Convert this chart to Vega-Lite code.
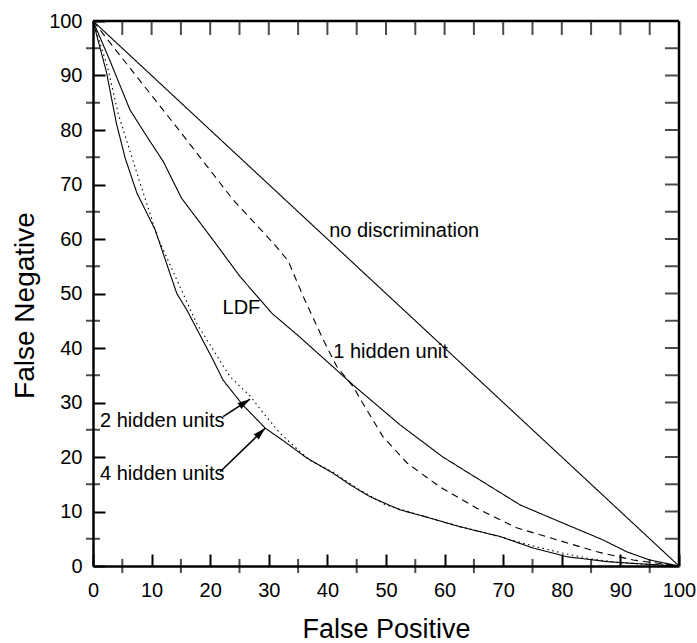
{
  "$schema": "https://vega.github.io/schema/vega-lite/v6.json",
  "width": 586,
  "height": 545,
  "autosize": {"type": "none"},
  "padding": {"left": 93, "top": 21, "right": 18, "bottom": 77},
  "background": "white",
  "config": {
    "view": {"stroke": null},
    "axis": {"domainColor": "black", "tickColor": "black", "labelColor": "black", "titleColor": "black", "labelFont": "Liberation Sans", "titleFont": "Liberation Sans", "titleFontWeight": "normal", "grid": false}
  },
  "datasets": {
    "curves": [
      {"series": "no discrimination", "fp": 0, "fn": 100},
      {"series": "no discrimination", "fp": 100, "fn": 0},
      {"series": "LDF", "fp": 0, "fn": 100},
      {"series": "LDF", "fp": 2.9, "fn": 92.7},
      {"series": "LDF", "fp": 6.3, "fn": 83.7},
      {"series": "LDF", "fp": 9.2, "fn": 78.8},
      {"series": "LDF", "fp": 12, "fn": 74.2},
      {"series": "LDF", "fp": 15.1, "fn": 67.5},
      {"series": "LDF", "fp": 20.5, "fn": 59.8},
      {"series": "LDF", "fp": 25.1, "fn": 53.1},
      {"series": "LDF", "fp": 30.5, "fn": 46.4},
      {"series": "LDF", "fp": 35.3, "fn": 42},
      {"series": "LDF", "fp": 41, "fn": 36.5},
      {"series": "LDF", "fp": 44.4, "fn": 33.2},
      {"series": "LDF", "fp": 52.4, "fn": 25.9},
      {"series": "LDF", "fp": 59.7, "fn": 20},
      {"series": "LDF", "fp": 66, "fn": 15.8},
      {"series": "LDF", "fp": 72.9, "fn": 11.2},
      {"series": "LDF", "fp": 79.7, "fn": 8.1},
      {"series": "LDF", "fp": 87, "fn": 4.8},
      {"series": "LDF", "fp": 91.1, "fn": 2.6},
      {"series": "LDF", "fp": 95, "fn": 1.1},
      {"series": "LDF", "fp": 100, "fn": 0},
      {"series": "1 hidden unit", "fp": 0, "fn": 100},
      {"series": "1 hidden unit", "fp": 5.7, "fn": 92.2},
      {"series": "1 hidden unit", "fp": 15.1, "fn": 79.4},
      {"series": "1 hidden unit", "fp": 23.9, "fn": 67.2},
      {"series": "1 hidden unit", "fp": 30.8, "fn": 59.2},
      {"series": "1 hidden unit", "fp": 33.3, "fn": 56},
      {"series": "1 hidden unit", "fp": 35.9, "fn": 49.4},
      {"series": "1 hidden unit", "fp": 39.3, "fn": 41.5},
      {"series": "1 hidden unit", "fp": 41.6, "fn": 36.6},
      {"series": "1 hidden unit", "fp": 44.4, "fn": 32.9},
      {"series": "1 hidden unit", "fp": 46.4, "fn": 29.2},
      {"series": "1 hidden unit", "fp": 49.5, "fn": 23.7},
      {"series": "1 hidden unit", "fp": 53.6, "fn": 18.9},
      {"series": "1 hidden unit", "fp": 59.2, "fn": 14.5},
      {"series": "1 hidden unit", "fp": 66, "fn": 10.3},
      {"series": "1 hidden unit", "fp": 72.3, "fn": 7},
      {"series": "1 hidden unit", "fp": 79.2, "fn": 4.8},
      {"series": "1 hidden unit", "fp": 86, "fn": 2.6},
      {"series": "1 hidden unit", "fp": 92.2, "fn": 1.1},
      {"series": "1 hidden unit", "fp": 100, "fn": 0},
      {"series": "2 hidden units", "fp": 0, "fn": 100},
      {"series": "2 hidden units", "fp": 2.5, "fn": 91.5},
      {"series": "2 hidden units", "fp": 4.3, "fn": 83},
      {"series": "2 hidden units", "fp": 7.7, "fn": 71.4},
      {"series": "2 hidden units", "fp": 11, "fn": 60.4},
      {"series": "2 hidden units", "fp": 15.1, "fn": 50.6},
      {"series": "2 hidden units", "fp": 17.7, "fn": 44.5},
      {"series": "2 hidden units", "fp": 23.4, "fn": 34.7},
      {"series": "2 hidden units", "fp": 26.8, "fn": 31.2},
      {"series": "2 hidden units", "fp": 29.1, "fn": 28},
      {"series": "2 hidden units", "fp": 31.9, "fn": 24.4},
      {"series": "2 hidden units", "fp": 35.3, "fn": 21},
      {"series": "2 hidden units", "fp": 37, "fn": 19.4},
      {"series": "2 hidden units", "fp": 41, "fn": 17.2},
      {"series": "2 hidden units", "fp": 45, "fn": 14.3},
      {"series": "2 hidden units", "fp": 50, "fn": 11.2},
      {"series": "2 hidden units", "fp": 55, "fn": 9.6},
      {"series": "2 hidden units", "fp": 60, "fn": 8},
      {"series": "2 hidden units", "fp": 65, "fn": 6.6},
      {"series": "2 hidden units", "fp": 70, "fn": 5.2},
      {"series": "2 hidden units", "fp": 75, "fn": 3.7},
      {"series": "2 hidden units", "fp": 80, "fn": 2.4},
      {"series": "2 hidden units", "fp": 85, "fn": 1.3},
      {"series": "2 hidden units", "fp": 90, "fn": 0.6},
      {"series": "2 hidden units", "fp": 100, "fn": 0},
      {"series": "4 hidden units", "fp": 0, "fn": 100},
      {"series": "4 hidden units", "fp": 2.3, "fn": 90.6},
      {"series": "4 hidden units", "fp": 4, "fn": 81.2},
      {"series": "4 hidden units", "fp": 5.5, "fn": 74.8},
      {"series": "4 hidden units", "fp": 7.5, "fn": 68.4},
      {"series": "4 hidden units", "fp": 10.6, "fn": 61.7},
      {"series": "4 hidden units", "fp": 14.3, "fn": 50},
      {"series": "4 hidden units", "fp": 16, "fn": 47},
      {"series": "4 hidden units", "fp": 20.5, "fn": 37.8},
      {"series": "4 hidden units", "fp": 22.2, "fn": 34.1},
      {"series": "4 hidden units", "fp": 25.6, "fn": 29.5},
      {"series": "4 hidden units", "fp": 29.4, "fn": 25.3},
      {"series": "4 hidden units", "fp": 33.1, "fn": 22.5},
      {"series": "4 hidden units", "fp": 36.5, "fn": 19.8},
      {"series": "4 hidden units", "fp": 41, "fn": 17},
      {"series": "4 hidden units", "fp": 43.9, "fn": 14.9},
      {"series": "4 hidden units", "fp": 47.3, "fn": 12.7},
      {"series": "4 hidden units", "fp": 52.4, "fn": 10.3},
      {"series": "4 hidden units", "fp": 57.5, "fn": 8.8},
      {"series": "4 hidden units", "fp": 62.6, "fn": 7.2},
      {"series": "4 hidden units", "fp": 69.5, "fn": 5.4},
      {"series": "4 hidden units", "fp": 75.1, "fn": 3.3},
      {"series": "4 hidden units", "fp": 80.9, "fn": 1.7},
      {"series": "4 hidden units", "fp": 87.7, "fn": 0.8},
      {"series": "4 hidden units", "fp": 93.3, "fn": 0.4},
      {"series": "4 hidden units", "fp": 100, "fn": 0}
    ],
    "arrows": [
      {"name": "2 hidden units", "x": 22.2, "y": 27.4, "x2": 26.8, "y2": 30.6},
      {"name": "4 hidden units", "x": 21.7, "y": 17.3, "x2": 29.4, "y2": 25.3}
    ],
    "labels": [
      {"label": "no discrimination", "x": 40.3, "y": 61.5},
      {"label": "LDF", "x": 22.1, "y": 47.3},
      {"label": "1 hidden unit", "x": 41, "y": 39.3},
      {"label": "2 hidden units", "x": 1.2, "y": 26.6},
      {"label": "4 hidden units", "x": 1.2, "y": 16.9}
    ],
    "tickvals": [
      {"v": 5, "kind": "minor"}, {"v": 10, "kind": "major"},
      {"v": 15, "kind": "minor"}, {"v": 20, "kind": "major"},
      {"v": 25, "kind": "minor"}, {"v": 30, "kind": "major"},
      {"v": 35, "kind": "minor"}, {"v": 40, "kind": "major"},
      {"v": 45, "kind": "minor"}, {"v": 50, "kind": "major"},
      {"v": 55, "kind": "minor"}, {"v": 60, "kind": "major"},
      {"v": 65, "kind": "minor"}, {"v": 70, "kind": "major"},
      {"v": 75, "kind": "minor"}, {"v": 80, "kind": "major"},
      {"v": 85, "kind": "minor"}, {"v": 90, "kind": "major"},
      {"v": 95, "kind": "minor"}
    ],
    "frame": [
      {"side": "top"}, {"side": "right"}
    ]
  },
  "layer": [
    {
      "data": {"name": "curves"},
      "mark": {"type": "line", "color": "black", "strokeWidth": 1.1},
      "encoding": {
        "x": {"field": "fp", "type": "quantitative", "scale": {"domain": [0, 100], "nice": false},
          "axis": {"orient": "bottom", "values": [0, 10, 20, 30, 40, 50, 60, 70, 80, 90, 100], "ticks": true, "tickSize": -12, "tickWidth": 2, "domain": true, "domainWidth": 2.5, "labelFontSize": 20, "labelPadding": 26, "labelFlush": false, "labelOverlap": false, "title": "False Positive", "titleFontSize": 27, "titleBaseline": "alphabetic", "titleX": 293, "titleY": 71}},
        "y": {"field": "fn", "type": "quantitative", "scale": {"domain": [0, 100], "nice": false},
          "axis": {"orient": "left", "values": [0, 10, 20, 30, 40, 50, 60, 70, 80, 90, 100], "ticks": true, "tickSize": -12, "tickWidth": 2, "domain": true, "domainWidth": 2.5, "labelFontSize": 20, "labelPadding": 23, "labelFlush": false, "labelOverlap": false, "title": "False Negative", "titleFontSize": 28, "titleBaseline": "alphabetic", "titleX": -60, "titleY": 284}},
        "detail": {"field": "series"},
        "strokeDash": {"field": "series", "type": "nominal",
          "scale": {"domain": ["no discrimination", "LDF", "1 hidden unit", "2 hidden units", "4 hidden units"], "range": [[1, 0], [1, 0], [7, 5], [1.5, 3.5], [1, 0]]},
          "legend": null}
      }
    },
    {
      "data": {"name": "arrows"},
      "mark": {"type": "rule", "color": "black", "strokeWidth": 1.5},
      "encoding": {
        "x": {"field": "x", "type": "quantitative"},
        "y": {"field": "y", "type": "quantitative"},
        "x2": {"field": "x2"},
        "y2": {"field": "y2"}
      }
    },
    {
      "data": {"name": "arrows"},
      "transform": [{"filter": "datum.name === '2 hidden units'"}],
      "mark": {"type": "point", "shape": "M0,0L0.6,2.1L-0.6,2.1Z", "filled": true, "color": "black", "opacity": 1, "size": 144, "angle": 57},
      "encoding": {
        "x": {"field": "x2", "type": "quantitative"},
        "y": {"field": "y2", "type": "quantitative"}
      }
    },
    {
      "data": {"name": "arrows"},
      "transform": [{"filter": "datum.name === '4 hidden units'"}],
      "mark": {"type": "point", "shape": "M0,0L0.6,2.1L-0.6,2.1Z", "filled": true, "color": "black", "opacity": 1, "size": 144, "angle": 46},
      "encoding": {
        "x": {"field": "x2", "type": "quantitative"},
        "y": {"field": "y2", "type": "quantitative"}
      }
    },
    {
      "data": {"name": "labels"},
      "mark": {"type": "text", "align": "left", "baseline": "middle", "fontSize": 20, "color": "black", "font": "Liberation Sans"},
      "encoding": {
        "x": {"field": "x", "type": "quantitative"},
        "y": {"field": "y", "type": "quantitative"},
        "text": {"field": "label"}
      }
    },
    {
      "data": {"name": "frame"},
      "transform": [{"filter": "datum.side === 'top'"}],
      "mark": {"type": "rule", "color": "black", "strokeWidth": 2.5},
      "encoding": {
        "x": {"datum": 0, "type": "quantitative"},
        "x2": {"datum": 100},
        "y": {"datum": 100, "type": "quantitative"}
      }
    },
    {
      "data": {"name": "frame"},
      "transform": [{"filter": "datum.side === 'right'"}],
      "mark": {"type": "rule", "color": "black", "strokeWidth": 2.5},
      "encoding": {
        "y": {"datum": 0, "type": "quantitative"},
        "y2": {"datum": 100},
        "x": {"datum": 100, "type": "quantitative"}
      }
    },
    {
      "data": {"name": "tickvals"},
      "mark": {"type": "tick", "color": "black", "thickness": 2, "size": 14, "orient": "vertical", "yOffset": 7},
      "encoding": {"x": {"field": "v", "type": "quantitative"}, "y": {"datum": 100, "type": "quantitative"}}
    },
    {
      "data": {"name": "tickvals"},
      "mark": {"type": "tick", "color": "black", "thickness": 2, "size": 14, "orient": "horizontal", "xOffset": -7},
      "encoding": {"y": {"field": "v", "type": "quantitative"}, "x": {"datum": 100, "type": "quantitative"}}
    },
    {
      "data": {"name": "tickvals"},
      "transform": [{"filter": "datum.kind === 'minor'"}],
      "mark": {"type": "tick", "color": "black", "thickness": 2, "size": 14, "orient": "vertical", "yOffset": 0},
      "encoding": {"x": {"field": "v", "type": "quantitative"}, "y": {"datum": 0, "type": "quantitative"}}
    },
    {
      "data": {"name": "tickvals"},
      "transform": [{"filter": "datum.kind === 'minor'"}],
      "mark": {"type": "tick", "color": "black", "thickness": 2, "size": 14, "orient": "horizontal", "xOffset": 0},
      "encoding": {"y": {"field": "v", "type": "quantitative"}, "x": {"datum": 0, "type": "quantitative"}}
    }
  ]
}
